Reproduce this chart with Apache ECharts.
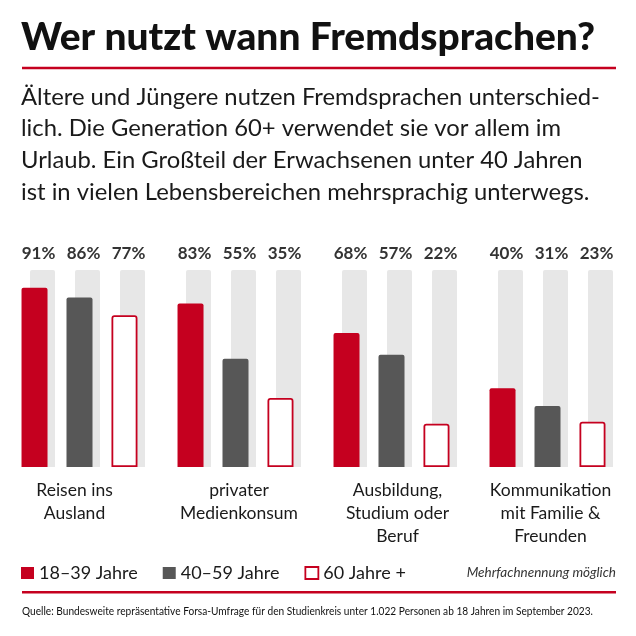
<!DOCTYPE html>
<html>
<head>
<meta charset="utf-8">
<script src="https://cdn.jsdelivr.net/npm/echarts@6/dist/echarts.min.js"></script>
<style>
html,body{margin:0;padding:0;background:#fff;}
#chart{width:636px;height:636px;}
</style>
</head>
<body>
<div id="chart"></div>
<script>
const categories = ['Reisen ins\nAusland', 'privater\nMedienkonsum', 'Ausbildung,\nStudium oder\nBeruf', 'Kommunikation\nmit Familie &\nFreunden'];
const seriesNames = ['18–39 Jahre', '40–59 Jahre', '60 Jahre +'];
const young = [91, 83, 68, 40];
const middle = [86, 55, 57, 31];
const old = [77, 35, 22, 23];
const fullScale = [100, 100, 100, 100];

const titleText = 'Wer nutzt wann Fremdsprachen?';
const subtitleText = 'Ältere und Jüngere nutzen Fremdsprachen unterschied-\nlich. Die Generation 60+ verwendet sie vor allem im\nUrlaub. Ein Großteil der Erwachsenen unter 40 Jahren\nist in vielen Lebensbereichen mehrsprachig unterwegs.';
const noteText = 'Mehrfachnennung möglich';
const sourceText = 'Quelle: Bundesweite repräsentative Forsa-Umfrage für den Studienkreis unter 1.022 Personen ab 18 Jahren im September 2023.';

const RED = '#c5001f';
const DARK = '#575757';
const BG = '#e7e7e7';
const TXT = '#1a1a1a';

const ctx = document.createElement('canvas').getContext('2d');
function fitScale(text, font, targetWidth) {
  ctx.font = font;
  const w = ctx.measureText(text).width;
  return w > 0 ? targetWidth / w : 1;
}
const TITLE_FONT = '900 38px Lato';
const SOURCE_FONT = '12px Lato';
const titleScale = fitScale(titleText, TITLE_FONT, 574);
const sourceScale = fitScale(sourceText, SOURCE_FONT, 571);

const chart = echarts.init(document.getElementById('chart'), null, {renderer: 'canvas'});

const labelShift = [[0, 10, 0, 0], [0, 0, 0, 7], [0, 0, 0, 12], [0, 0, 0, 6]];
const catData = categories.map((c, i) => ({value: c, textStyle: {padding: labelShift[i]}}));

function bgSeries(values) {
  return {
    type: 'bar', xAxisIndex: 1, yAxisIndex: 1, data: fullScale,
    barWidth: 25, barGap: '80%', z: 1, silent: true,
    itemStyle: {color: BG, borderRadius: [2, 2, 0, 0]},
    label: {
      show: true, position: 'top', distance: 8, offset: [-4, 0],
      formatter: p => values[p.dataIndex] + '%',
      fontFamily: 'Lato', fontWeight: 'bold', fontSize: 17, color: '#333'
    }
  };
}

const option = {
  backgroundColor: '#fff',
  animation: false,
  title: [
    {
      text: subtitleText,
      left: 21, top: 81, padding: 0,
      textStyle: {fontFamily: 'Lato', fontWeight: 'normal', fontSize: 23.8, lineHeight: 31.7, color: TXT}
    }
  ],
  graphic: [
    {type: 'text', x: 21, y: 38, scaleX: titleScale, style: {text: titleText, x: 0, y: 0, font: TITLE_FONT, fill: '#111', textAlign: 'left', textVerticalAlign: 'middle'}},
    {type: 'rect', shape: {x: 22, y: 66.8, width: 594, height: 2.5}, style: {fill: RED}},
    {type: 'text', style: {text: noteText, x: 616, y: 573, font: 'italic 13.5px Lato', fill: '#333', textAlign: 'right', textVerticalAlign: 'middle'}},
    {type: 'rect', shape: {x: 22, y: 591, width: 594, height: 2.5}, style: {fill: RED}},
    {type: 'text', x: 22, y: 611, scaleX: sourceScale, style: {text: sourceText, x: 0, y: 0, font: SOURCE_FONT, fill: '#111', textAlign: 'left', textVerticalAlign: 'middle'}}
  ],
  legend: {
    data: [
      {name: seriesNames[0], itemStyle: {color: RED, borderWidth: 0}},
      {name: seriesNames[1], itemStyle: {color: DARK, borderWidth: 0}},
      {name: seriesNames[2], itemStyle: {color: '#fff', borderColor: RED, borderWidth: 1.8}}
    ],
    icon: 'rect', left: 21, top: 563, padding: 0, itemWidth: 13, itemHeight: 12, itemGap: 25,
    selectedMode: false,
    textStyle: {fontFamily: 'Lato', fontSize: 18, color: TXT, lineHeight: 20}
  },
  grid: [
    {left: 1.5, width: 624, top: 270, height: 197},
    {left: 9.5, width: 624, top: 270, height: 197}
  ],
  xAxis: [
    {type: 'category', gridIndex: 0, data: catData, axisLine: {show: false}, axisTick: {show: false},
      axisLabel: {interval: 0, margin: 12, fontFamily: 'Lato', fontSize: 17.5, lineHeight: 23, color: TXT, align: 'center'}},
    {type: 'category', gridIndex: 1, data: categories, show: false}
  ],
  yAxis: [
    {type: 'value', gridIndex: 0, min: 0, max: 100, show: false},
    {type: 'value', gridIndex: 1, min: 0, max: 100, show: false}
  ],
  series: [
    bgSeries(young),
    bgSeries(middle),
    bgSeries(old),
    {name: seriesNames[0], type: 'bar', xAxisIndex: 0, yAxisIndex: 0, data: young, barWidth: 26, barGap: '73%', z: 2,
      itemStyle: {color: RED, borderRadius: [2, 2, 0, 0]}},
    {name: seriesNames[1], type: 'bar', xAxisIndex: 0, yAxisIndex: 0, data: middle, barWidth: 26, barGap: '73%', z: 2,
      itemStyle: {color: DARK, borderRadius: [2, 2, 0, 0]}},
    {name: seriesNames[2], type: 'bar', xAxisIndex: 0, yAxisIndex: 0, data: old, barWidth: 26, barGap: '73%', z: 2,
      itemStyle: {color: '#fff', borderColor: RED, borderWidth: 1.8, borderRadius: [2, 2, 0, 0]}}
  ]
};
chart.setOption(option);
</script>
</body>
</html>
